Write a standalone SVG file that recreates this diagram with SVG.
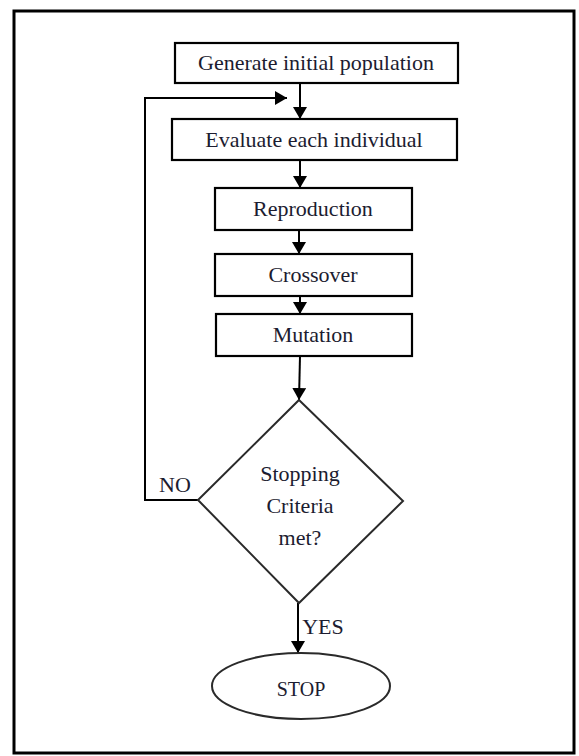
<svg xmlns="http://www.w3.org/2000/svg" width="579" height="756" viewBox="0 0 579 756">
<defs>
<style>
.box{fill:#fff;stroke:#000;stroke-width:2.2}
.shape{fill:#fff;stroke:#2a2a2a;stroke-width:2}
.lbl{font-family:"Liberation Serif","Times New Roman",serif;font-size:22px;fill:#1c1c30;text-anchor:middle}
.edge{fill:none;stroke:#000;stroke-width:2}
</style>
<marker id="ah" viewBox="0 0 12 14" refX="12" refY="7" markerWidth="12" markerHeight="14" markerUnits="userSpaceOnUse" orient="auto">
<path d="M0,0 L12,7 L0,14 Z" fill="#000"/>
</marker>
</defs>
<rect width="579" height="756" fill="#fff"/>
<rect x="14" y="11" width="560" height="742" fill="none" stroke="#000" stroke-width="3"/>
<g id="connectors">
<line class="edge" x1="300" y1="83" x2="300" y2="119" marker-end="url(#ah)"/>
<polyline class="edge" points="198,500 145,500 145,98 287,98" marker-end="url(#ah)"/>
<line class="edge" x1="300" y1="160" x2="300" y2="188" marker-end="url(#ah)"/>
<line class="edge" x1="299" y1="230" x2="299" y2="254" marker-end="url(#ah)"/>
<line class="edge" x1="300" y1="296" x2="300" y2="314" marker-end="url(#ah)"/>
<line class="edge" x1="300" y1="356" x2="299" y2="400" marker-end="url(#ah)"/>
<line class="edge" x1="298" y1="603" x2="298" y2="653" marker-end="url(#ah)"/>
<text class="lbl" x="175" y="492">NO</text>
<text class="lbl" x="323" y="634">YES</text>
</g>
<g id="n1">
<rect class="box" x="175" y="43" width="283" height="40"/>
<text class="lbl" x="316" y="70">Generate initial population</text>
</g>
<g id="n2">
<rect class="box" x="172" y="119" width="285" height="41"/>
<text class="lbl" x="314" y="147">Evaluate each individual</text>
</g>
<g id="n3">
<rect class="box" x="215" y="188" width="197" height="42"/>
<text class="lbl" x="313" y="216">Reproduction</text>
</g>
<g id="n4">
<rect class="box" x="215" y="254" width="197" height="42"/>
<text class="lbl" x="313" y="282">Crossover</text>
</g>
<g id="n5">
<rect class="box" x="216" y="314" width="196" height="42"/>
<text class="lbl" x="313" y="342">Mutation</text>
</g>
<g id="n6">
<polygon class="shape" points="299,400 403,501 299,603 198,500"/>
<text class="lbl" x="300" y="481">Stopping</text>
<text class="lbl" x="300" y="513">Criteria</text>
<text class="lbl" x="300" y="545">met?</text>
</g>
<g id="n7">
<ellipse class="shape" cx="301" cy="686" rx="89" ry="33"/>
<text class="lbl" x="301" y="696" style="font-size:20px">STOP</text>
</g>
</svg>
